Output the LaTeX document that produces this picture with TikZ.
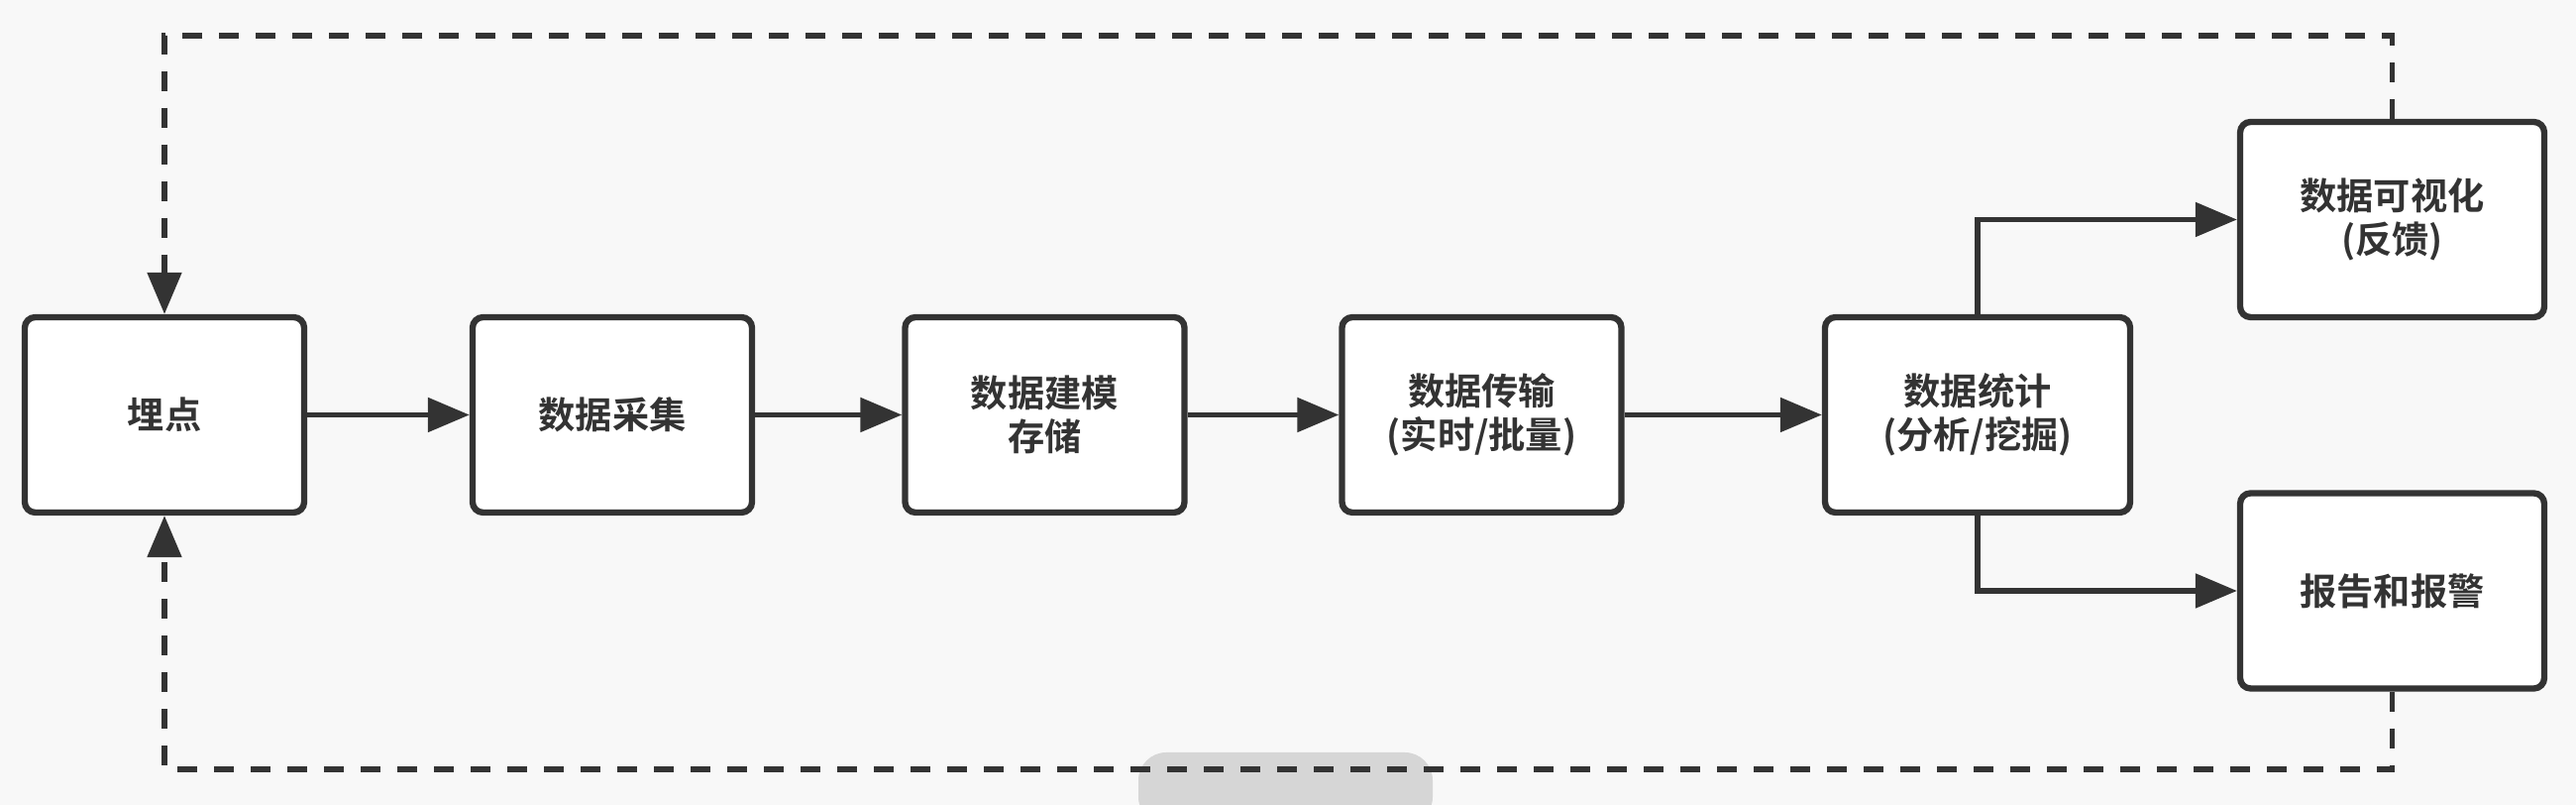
\documentclass[tikz,border=0pt]{standalone}
\usepackage{fontspec}
\newfontfamily\cjk{Noto Sans CJK SC}[BoldFont={Noto Sans CJK SC Bold}]
\usepackage{tikz}
\usetikzlibrary{arrows.meta, positioning, calc}
\definecolor{ink}{HTML}{333333}
\definecolor{paper}{HTML}{F8F8F8}
\definecolor{capgray}{HTML}{D6D6D6}
\tikzset{
  stage/.style={draw=ink, fill=white, line width=1.8pt, rounded corners=3pt,
    minimum width=2.82cm, minimum height=1.97cm, align=center, text=ink,
    font=\cjk\bfseries\fontsize{10.6}{12.6}\selectfont},
  flow/.style={draw=ink, line width=1.5pt, -{Triangle[length=0.42cm,width=0.34cm]}},
  feedback/.style={flow, dash pattern=on 0.2cm off 0.17cm}
}

\begin{document}
\begin{tikzpicture}
  % Canvas
  \fill[paper] (0,0) rectangle (26,8.12);
  \useasboundingbox (0,0) rectangle (26,8.12);
  \fill[capgray, rounded corners=8pt] (11.49,-0.2) rectangle (14.46,0.53);
  % Main chain
  \node[stage] (maidian) at (1.66,3.935) {埋点};
  \node[stage] (caiji)   at (6.18,3.935) {数据采集};
  \node[stage] (jianmo)  at (10.545,3.935) {数据建模\\存储};
  \node[stage] (chuanshu) at (14.955,3.935) {数据传输\\(实时/批量)};
  \node[stage, minimum width=3.08cm] (tongji) at (19.96,3.935) {数据统计\\(分析/挖掘)};
  % Outputs
  \node[stage, minimum width=3.07cm] (keshi) at (24.145,5.905) {数据可视化\\(反馈)};
  \node[stage, minimum width=3.07cm] (baogao) at (24.145,2.16) {报告和报警};
  % Loop lines
  \coordinate (toprail) at (0,7.76);
  \coordinate (botrail) at (0,0.36);
  % Arrows
  \draw[flow] (maidian) -- (caiji);
  \draw[flow] (caiji) -- (jianmo);
  \draw[flow] (jianmo) -- (chuanshu);
  \draw[flow] (chuanshu) -- (tongji);
  \draw[flow] (tongji.north) |- (keshi.west);
  \draw[flow] (tongji.south) |- (baogao.west);
  \draw[feedback] (keshi.north) -- (keshi.north |- toprail) -| (maidian.north);
  \draw[feedback] (baogao.south) -- (baogao.south |- botrail) -| (maidian.south);
\end{tikzpicture}
\end{document}
